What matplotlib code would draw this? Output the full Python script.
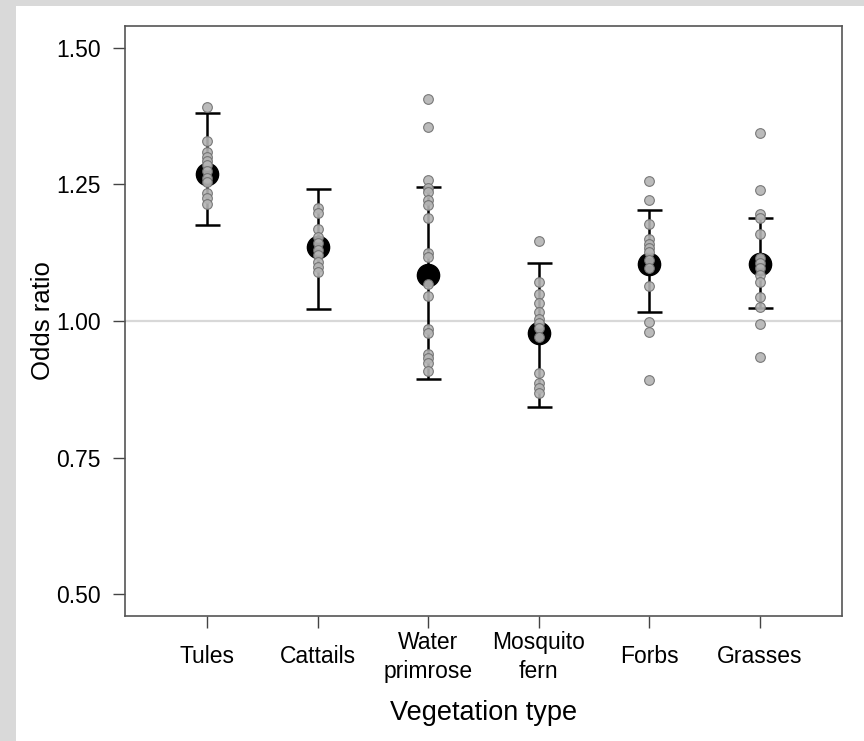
import matplotlib.pyplot as plt
from matplotlib.patches import Rectangle

plt.rcParams['font.family'] = ['Liberation Sans', 'DejaVu Sans']

categories = ['Tules', 'Cattails', 'Water\nprimrose', 'Mosquito\nfern', 'Forbs', 'Grasses']
means = [1.270, 1.135, 1.084, 0.978, 1.104, 1.104]
lower = [1.175, 1.022, 0.894, 0.843, 1.016, 1.024]
upper = [1.380, 1.241, 1.245, 1.106, 1.204, 1.188]

# individual estimates per vegetation type
tules = [1.392, 1.330, 1.310, 1.300, 1.292, 1.285, 1.275, 1.262, 1.255, 1.235, 1.225, 1.215]
cattails = [1.206, 1.197, 1.168, 1.153, 1.142, 1.130, 1.120, 1.108, 1.099, 1.090]
primrose = [1.407, 1.355, 1.259, 1.243, 1.236, 1.221, 1.213, 1.188, 1.124, 1.117,
            1.068, 1.045, 0.986, 0.978, 0.940, 0.932, 0.923, 0.909]
fern = [1.146, 1.071, 1.049, 1.033, 1.017, 1.004, 0.996, 0.987, 0.971, 0.905,
        0.887, 0.878, 0.869]
forbs = [1.257, 1.221, 1.177, 1.150, 1.141, 1.133, 1.126, 1.111, 1.097, 1.064,
         0.998, 0.980, 0.892]
grasses = [1.345, 1.239, 1.195, 1.188, 1.159, 1.115, 1.106, 1.097, 1.084, 1.071,
           1.044, 1.025, 0.995, 0.934]
points = [tules, cattails, primrose, fern, forbs, grasses]

yticks = [0.50, 0.75, 1.00, 1.25, 1.50]

fig = plt.figure(figsize=(8.64, 7.41), dpi=100, facecolor='#d9d9d9')
# white panel over the grey background
fig.patches.append(Rectangle((16 / 864, 0), 1, 1 - 6 / 741, transform=fig.transFigure,
                             facecolor='white', edgecolor='none', zorder=-5))

ax = fig.add_axes([125 / 864, 1 - 616 / 741, 717 / 864, 590 / 741])
ax.set_zorder(2)
x = list(range(1, len(categories) + 1))

ax.axhline(1.0, color='#d8d8d8', lw=1.6, zorder=1)

yerr = [[m - l for m, l in zip(means, lower)], [u - m for m, u in zip(means, upper)]]
ax.errorbar(x, means, yerr=yerr, fmt='none', ecolor='black', elinewidth=1.8,
            capsize=9, capthick=1.8, zorder=2)
ax.plot(x, means, 'o', color='black', markersize=16, zorder=3)

for xi, pts in zip(x, points):
    ax.plot([xi] * len(pts), pts, 'o', markerfacecolor='#b4b4b4', markeredgecolor='#6e6e6e',
            markeredgewidth=0.8, markersize=7, alpha=0.9, linestyle='none', zorder=4)

ax.set_xlim(0.26, 6.74)
ax.set_ylim(0.46, 1.54)
ax.set_yticks(yticks)
ax.set_yticklabels(['%.2f' % v for v in yticks], fontsize=16.5)
ax.set_xticks(x)
ax.set_xticklabels(categories, fontsize=16.5, va='center', linespacing=1.3)

ax.tick_params(axis='y', length=8.5, width=1, pad=9, color='#444444')
ax.tick_params(axis='x', length=8.5, width=1, pad=21, color='#444444')
for s in ax.spines.values():
    s.set_color('#555555')
    s.set_linewidth(1.2)

ax.set_ylabel('Odds ratio', fontsize=18.5)
ax.yaxis.set_label_coords(-0.114, 0.5)
ax.set_xlabel('Vegetation type', fontsize=19.5)
ax.xaxis.set_label_coords(0.5, -0.164)
ax.xaxis.label.set_va('center')
ax.yaxis.label.set_va('center')

fig.savefig('out.png', dpi=100, facecolor=fig.get_facecolor())
